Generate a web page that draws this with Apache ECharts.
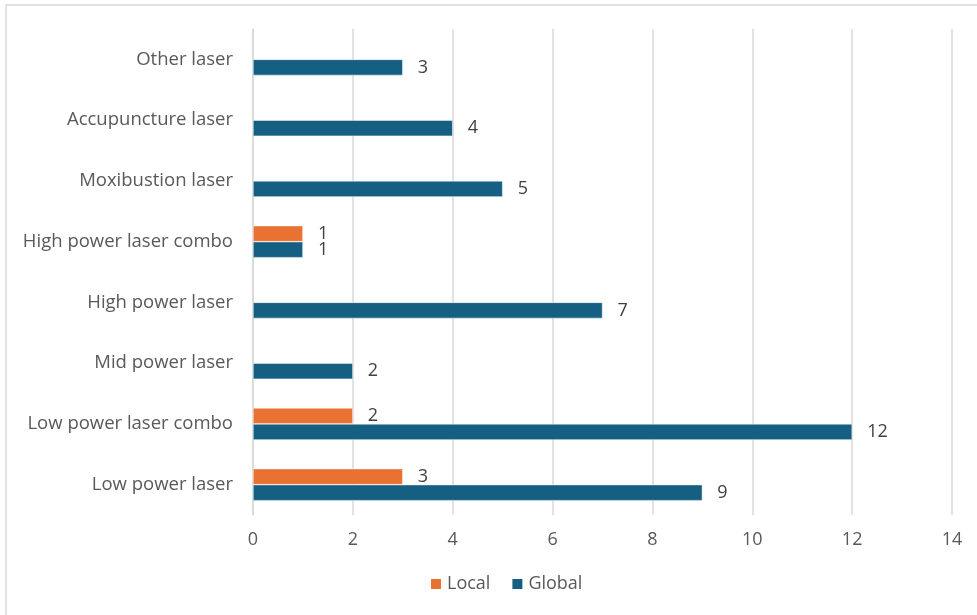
<!DOCTYPE html>
<html>
<head>
<meta charset="utf-8">
<script src="https://cdn.jsdelivr.net/npm/echarts@6/dist/echarts.min.js"></script>
<style>
  html, body { margin: 0; padding: 0; background: #fff; }
  #chart { width: 977px; height: 615px; }
</style>
</head>
<body>
<div id="chart"></div>
<script>
let categories = ['Low power laser', 'Low power laser combo', 'Mid power laser', 'High power laser',
    'High power laser combo', 'Moxibustion laser', 'Accupuncture laser', 'Other laser']
let local_values = [3, 2, null, null, 1, null, null, null]
let global_values = [9, 12, 2, 7, 1, 5, 4, 3]
let x_ticks = [0, 2, 4, 6, 8, 10, 12, 14]

let font = '"Open Sans", Lato, sans-serif'

let chart = echarts.init(document.getElementById('chart'))
chart.setOption({
    animation: false,
    textStyle: {fontFamily: font},
    graphic: [{
        type: 'rect',
        shape: {x: 6, y: 5, width: 1000, height: 640},
        style: {fill: 'none', stroke: '#d9d9d9', lineWidth: 1.5},
        silent: true
    }],
    grid: {left: 253, right: 25, top: 29, bottom: 100},
    legend: {
        bottom: 17,
        left: 424,
        itemWidth: 12,
        itemHeight: 12,
        itemGap: 20,
        icon: 'rect',
        textStyle: {fontSize: 18, color: '#595959', fontFamily: font},
        data: ['Local', 'Global']
    },
    xAxis: {
        type: 'value',
        min: x_ticks[0],
        max: x_ticks[x_ticks.length - 1],
        interval: 2,
        axisLine: {show: false},
        axisTick: {show: false},
        splitLine: {lineStyle: {color: '#d9d9d9', width: 1.5}},
        axisLabel: {fontSize: 18, color: '#595959', margin: 16, fontFamily: font}
    },
    yAxis: {
        type: 'category',
        data: categories,
        axisLine: {show: true, lineStyle: {color: '#d9d9d9', width: 1.5}},
        axisTick: {show: false},
        axisLabel: {fontSize: 18.5, color: '#595959', margin: 20, fontFamily: font}
    },
    series: [
        {
            name: 'Local',
            type: 'bar',
            data: local_values,
            barWidth: 16,
            barGap: '0%',
            itemStyle: {color: '#E97132', borderColor: '#fff', borderWidth: 0.5},
            label: {show: true, position: 'right', distance: 15, fontSize: 18, color: '#404040', fontFamily: font}
        },
        {
            name: 'Global',
            type: 'bar',
            data: global_values,
            barWidth: 16,
            barGap: '0%',
            itemStyle: {color: '#156082', borderColor: '#fff', borderWidth: 0.5},
            label: {show: true, position: 'right', distance: 15, fontSize: 18, color: '#404040', fontFamily: font}
        }
    ]
})
</script>
</body>
</html>
